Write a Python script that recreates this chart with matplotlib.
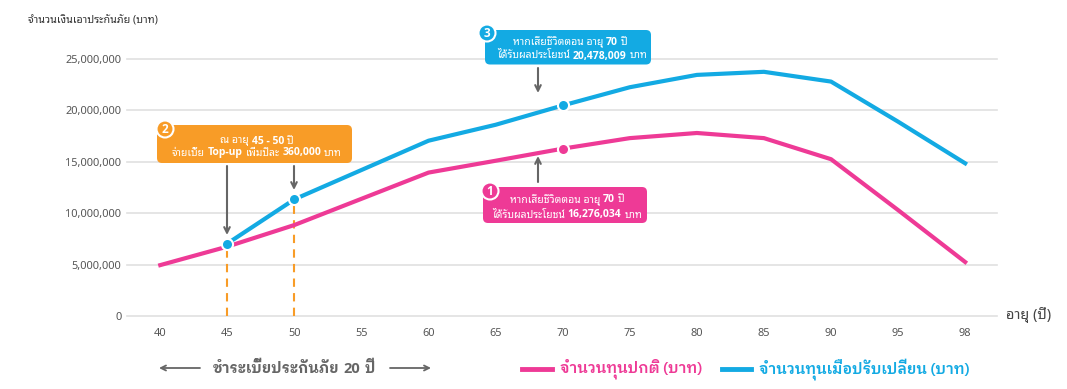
import numpy as np
import matplotlib
matplotlib.use('Agg')
import matplotlib.pyplot as plt
import matplotlib.patches as mpatches
from matplotlib import font_manager as fm
from matplotlib.transforms import IdentityTransform

# --- data ---
ages = [40, 45, 50, 55, 60, 65, 70, 75, 80, 85, 90, 95, 98]
normal_sum = [4950000, 6750000, 8850000, 11400000, 13950000, 15100000, 16276034,
              17300000, 17800000, 17300000, 15250000, 10300000, 5250000]
adjusted_sum = [np.nan, 7050000, 11350000, 14200000, 17050000, 18600000, 20478009,
                22250000, 23450000, 23750000, 22800000, 18900000, 14850000]
y_ticks = [0, 5000000, 10000000, 15000000, 20000000, 25000000]
topup_ages = [45, 50]
death_age = 70

# --- style ---
PINK = '#ee3a96'
BLUE = '#13aae3'
ORANGE = '#f89c27'
GRID = '#e0e0e0'
TEXT = '#555555'
ARROW = '#666666'


def pick(cands, min_weight=0):
    # first installed family that has a face at least this heavy
    for c in cands:
        if any(f.name == c and f.weight >= min_weight for f in fm.fontManager.ttflist):
            return c
    return 'DejaVu Sans'


THAI_FACE = pick(['Noto Sans Thai Looped', 'IBM Plex Sans Thai Looped', 'Noto Sans Thai'])
THAI_BOLD_FACE = pick(['Noto Sans Thai Looped', 'IBM Plex Sans Thai Looped', 'Noto Sans Thai'], 600)
LATIN_FACE = pick(['Noto Sans', 'Open Sans'])
LATIN_BOLD_FACE = pick(['Noto Sans', 'Open Sans', 'Lato'], 700)
THAI = [THAI_FACE, LATIN_FACE, 'DejaVu Sans']
THAI_B = [THAI_BOLD_FACE, LATIN_BOLD_FACE, 'DejaVu Sans']
LATIN = [LATIN_FACE, 'DejaVu Sans']
LATIN_B = [LATIN_BOLD_FACE, 'DejaVu Sans']

W, H = 1067, 389
fig = plt.figure(figsize=(W / 100, H / 100), dpi=100)
ax = fig.add_axes([127 / W, 1 - 316 / H, (996.7 - 127) / W, (316 - 38.4) / H])

x = np.arange(len(ages))
ax.plot(x, normal_sum, color=PINK, lw=3, zorder=3)
ax.plot(x, adjusted_sum, color=BLUE, lw=3, zorder=4)

for age in topup_ages:
    i = ages.index(age)
    ax.vlines(i, 0, adjusted_sum[i], colors=ORANGE, linestyles=(0, (4, 3)),
              lw=1.5, zorder=2, clip_on=False)
    ax.plot(i, adjusted_sum[i], 'o', ms=8, mfc=BLUE, mec='white', mew=1.5, zorder=6)

i70 = ages.index(death_age)
ax.plot(i70, adjusted_sum[i70], 'o', ms=8, mfc=BLUE, mec='white', mew=1.5, zorder=6)
ax.plot(i70, normal_sum[i70], 'o', ms=8, mfc=PINK, mec='white', mew=1.5, zorder=6)

ax.set_xlim(-0.496, 12.47)
ax.set_ylim(0, 27000000)
ax.set_xticks(x)
ax.set_xticklabels([str(a) for a in ages])
ax.set_yticks(y_ticks)
ax.set_yticklabels([f'{v:,}' for v in y_ticks])
ax.grid(axis='y', color=GRID, lw=1.2)
ax.grid(axis='x', visible=False)
ax.set_axisbelow(True)
for line in ax.yaxis.get_gridlines():
    line.set_clip_on(False)
for s in ax.spines.values():
    s.set_visible(False)
ax.tick_params(axis='both', length=0, labelsize=7.9, colors=TEXT)
ax.tick_params(axis='y', pad=4)
ax.tick_params(axis='x', pad=9)
for lbl in ax.get_xticklabels() + ax.get_yticklabels():
    lbl.set_family(LATIN)

px = IdentityTransform()


def P(xp, yp):
    return (xp, H - yp)


def rich_line(cx, base_y, parts, size, color, thai_bold=False):
    r = fig.canvas.get_renderer()
    arts = []
    for s, bold in parts:
        if bold:
            fam, wt = LATIN_B, 'bold'
        elif thai_bold:
            fam, wt = THAI_B, 'bold'
        else:
            fam, wt = THAI, 'normal'
        t = fig.text(0, 0, s, fontsize=size, color=color, family=fam, weight=wt,
                     ha='left', va='baseline', transform=px, zorder=8)
        arts.append(t)
    widths = [t.get_window_extent(r).width for t in arts]
    gap = size * 0.27 * 100 / 72
    xx = cx - (sum(widths) + gap * (len(arts) - 1)) / 2
    for t, w in zip(arts, widths):
        t.set_position(P(xx, base_y))
        xx += w + gap


def callout(x0, y0, x1, y1, color, num, ccx, ccy):
    box = mpatches.FancyBboxPatch(P(x0, y1), x1 - x0, y1 - y0,
                                  boxstyle='round,pad=0,rounding_size=5',
                                  fc=color, ec='none', transform=px, zorder=5)
    fig.add_artist(box)
    circ = mpatches.Circle(P(ccx, ccy), 8.5, fc=color, ec='white', lw=1.5,
                           transform=px, zorder=6)
    fig.add_artist(circ)
    fig.text(*P(ccx, ccy + 0.5), num, color='white', fontsize=8.5, weight='bold',
             family=LATIN_B, ha='center', va='center', transform=px, zorder=7)


def arrow(x0, y0, x1, y1, lw=1.5, ms=10):
    ax.annotate('', xy=P(x1, y1), xytext=P(x0, y0), xycoords='figure pixels',
                textcoords='figure pixels', annotation_clip=False,
                arrowprops=dict(arrowstyle='->', color=ARROW, lw=lw,
                                mutation_scale=ms, shrinkA=0, shrinkB=0))


BOX_FS = 7.5

# callout 3 (blue, death benefit of adjusted plan)
callout(485, 30, 651, 64.5, BLUE, '3', 487, 33)
rich_line(570, 45, [('หากเสียชีวิตตอน อายุ', False), ('70', True), ('ปี', False)], BOX_FS, 'white')
rich_line(572, 58.5, [('ได้รับผลประโยชน์', False), (f'{adjusted_sum[i70]:,}', True), ('บาท', False)], BOX_FS, 'white')
arrow(538, 68, 538, 93)

# callout 2 (orange, top-up)
callout(157, 125, 352, 163, ORANGE, '2', 165, 129)
rich_line(257, 143.5, [('ณ อายุ', False), ('45 - 50', True), ('ปี', False)], BOX_FS, 'white')
rich_line(257, 155.5, [('จ่ายเบี้ย', False), ('Top-up', True), ('เพิ่มปีละ', False), ('360,000', True), ('บาท', False)], BOX_FS, 'white')
arrow(227, 166, 227, 235)
arrow(294, 166, 294, 190)

# callout 1 (pink, death benefit of normal plan)
callout(483, 187, 647, 223, PINK, '1', 490, 191)
rich_line(567, 202.5, [('หากเสียชีวิตตอน อายุ', False), ('70', True), ('ปี', False)], BOX_FS, 'white')
rich_line(567, 217.5, [('ได้รับผลประโยชน์', False), (f'{normal_sum[i70]:,}', True), ('บาท', False)], BOX_FS, 'white')
arrow(538, 182, 538, 156)

# axis titles
fig.text(*P(28, 21), 'จำนวนเงินเอาประกันภัย (บาท)', fontsize=7.7, color='#333333',
         family=THAI, ha='left', va='center', transform=px)
fig.text(*P(1006, 315), 'อายุ (ปี)', fontsize=10.4, color='#444444',
         family=THAI, ha='left', va='center', transform=px)

# premium payment period
arrow(200, 368, 159, 368, lw=1.3, ms=9)
arrow(390, 368, 431, 368, lw=1.3, ms=9)
rich_line(294, 373, [('ชำระเบี้ยประกันภัย', False), ('20', True), ('ปี', False)], 10.5, '#666666',
          thai_bold=True)

# legend
fig.add_artist(plt.Line2D([522, 552], [H - 369, H - 369], color=PINK, lw=3.5, transform=px))
fig.add_artist(plt.Line2D([722, 751], [H - 369, H - 369], color=BLUE, lw=3.5, transform=px))
fig.text(*P(560, 369), 'จำนวนทุนปกติ (บาท)', fontsize=10.8, color=PINK,
         family=THAI_B, weight='semibold', ha='left', va='center', transform=px)
fig.text(*P(759, 369), 'จำนวนทุนเมื่อปรับเปลี่ยน (บาท)', fontsize=10.8, color=BLUE,
         family=THAI_B, weight='semibold', ha='left', va='center', transform=px)

fig.savefig('out.png', dpi=100, facecolor='white')
